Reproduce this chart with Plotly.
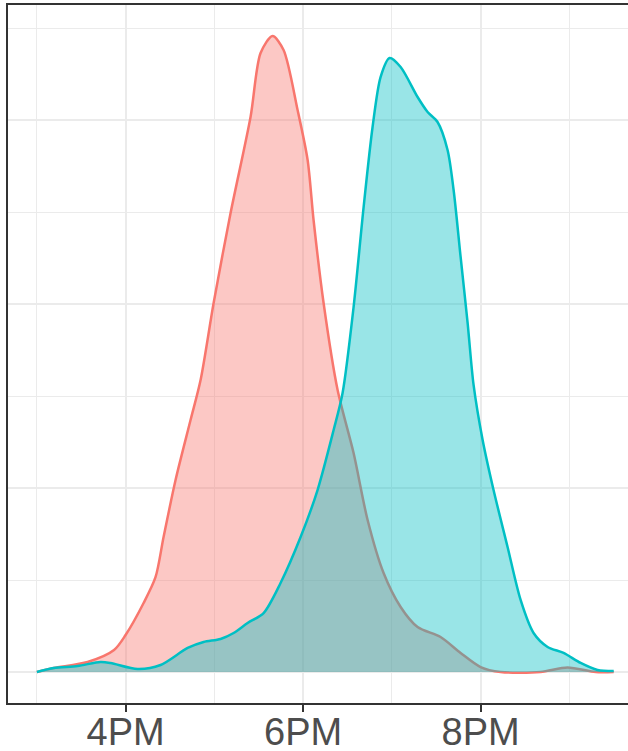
import plotly.graph_objects as go

# Hours of day (decimal, 24h clock) and density estimates
red_hours = [15.0, 15.189, 15.572, 15.870, 16.0, 16.203, 16.338, 16.428, 16.563, 16.732,
             16.845, 16.992, 17.183, 17.408, 17.521, 17.656, 17.780, 17.938, 18.051, 18.118,
             18.231, 18.389, 18.569, 18.727, 18.907, 19.099, 19.290, 19.549, 19.775, 20.0,
             20.225, 20.676, 20.980, 21.296, 21.5]
red_density = [0.0, 0.0043, 0.0109, 0.0239, 0.0402, 0.0750, 0.1033, 0.1467, 0.2087, 0.2739,
               0.3174, 0.4011, 0.4989, 0.6033, 0.6728, 0.6913, 0.6761, 0.6109, 0.5565, 0.4913,
               0.4011, 0.3065, 0.2380, 0.1652, 0.1076, 0.0707, 0.0489, 0.0380, 0.0207, 0.0054,
               0.0, 0.0, 0.005, 0.0, 0.0]

teal_hours = [15.0, 15.189, 15.459, 15.718, 15.831, 16.135, 16.394, 16.699, 16.879, 17.070,
              17.217, 17.375, 17.555, 17.746, 17.972, 18.163, 18.344, 18.445, 18.569, 18.682,
              18.783, 18.873, 18.975, 19.099, 19.290, 19.403, 19.515, 19.628, 19.696, 19.775,
              19.854, 19.921, 20.023, 20.146, 20.304, 20.451, 20.597, 20.755, 20.935, 21.127,
              21.318, 21.5]
teal_density = [0.0, 0.0043, 0.0065, 0.0109, 0.0098, 0.0033, 0.0076, 0.0261, 0.0326, 0.0359,
                0.0424, 0.0533, 0.0641, 0.0967, 0.1467, 0.1978, 0.2630, 0.3033, 0.3967, 0.5054,
                0.5924, 0.6467, 0.6674, 0.6576, 0.6250, 0.6087, 0.5978, 0.5674, 0.5239, 0.4511,
                0.3793, 0.3120, 0.2522, 0.1978, 0.1359, 0.0783, 0.0424, 0.0272, 0.0207, 0.0098,
                0.0022, 0.0011]

x_tick_vals = [16, 18, 20]
x_tick_text = ["4PM", "6PM", "8PM"]
x_minor_vals = [15, 17, 19, 21]
y_tick_vals = [0, 0.2, 0.4, 0.6]
y_minor_vals = [0.1, 0.3, 0.5, 0.7]

fig = go.Figure()
fig.add_trace(go.Scatter(
    x=red_hours, y=red_density, mode="lines", fill="tozeroy",
    line=dict(color="#F8766D", width=2.5, shape="spline", smoothing=0.8),
    fillcolor="rgba(248,118,109,0.4)", showlegend=False, hoverinfo="skip",
))
fig.add_trace(go.Scatter(
    x=teal_hours, y=teal_density, mode="lines", fill="tozeroy",
    line=dict(color="#00BFC4", width=2.5, shape="spline", smoothing=0.8),
    fillcolor="rgba(0,191,196,0.4)", showlegend=False, hoverinfo="skip",
))

fig.update_layout(
    width=628, height=751,
    margin=dict(l=8, r=0, t=5, b=48, autoexpand=False),
    paper_bgcolor="white", plot_bgcolor="white",
    font=dict(family="Liberation Sans, Arial, sans-serif", color="#4D4D4D"),
)
fig.update_xaxes(
    range=[14.675, 21.661],
    tickvals=x_tick_vals, ticktext=x_tick_text,
    tickfont=dict(size=38, color="#4D4D4D"),
    ticks="outside", ticklen=7, tickwidth=2, tickcolor="#333333",
    ticklabelstandoff=-13,
    showgrid=True, gridcolor="#EBEBEB", gridwidth=2,
    minor=dict(tickvals=x_minor_vals, showgrid=True, gridcolor="#EBEBEB", gridwidth=1, ticks=""),
    showline=True, linecolor="#333333", linewidth=2, mirror=True,
    zeroline=False, automargin=False,
)
fig.update_yaxes(
    range=[-0.0337, 0.725],
    tickvals=y_tick_vals, showticklabels=False, ticks="",
    showgrid=True, gridcolor="#EBEBEB", gridwidth=2,
    minor=dict(tickvals=y_minor_vals, showgrid=True, gridcolor="#EBEBEB", gridwidth=1, ticks=""),
    showline=True, linecolor="#333333", linewidth=2, mirror=False,
    zeroline=False, automargin=False,
)

fig.write_html("out.html", config={"displayModeBar": False},
               post_script="document.body.style.margin='0';")
